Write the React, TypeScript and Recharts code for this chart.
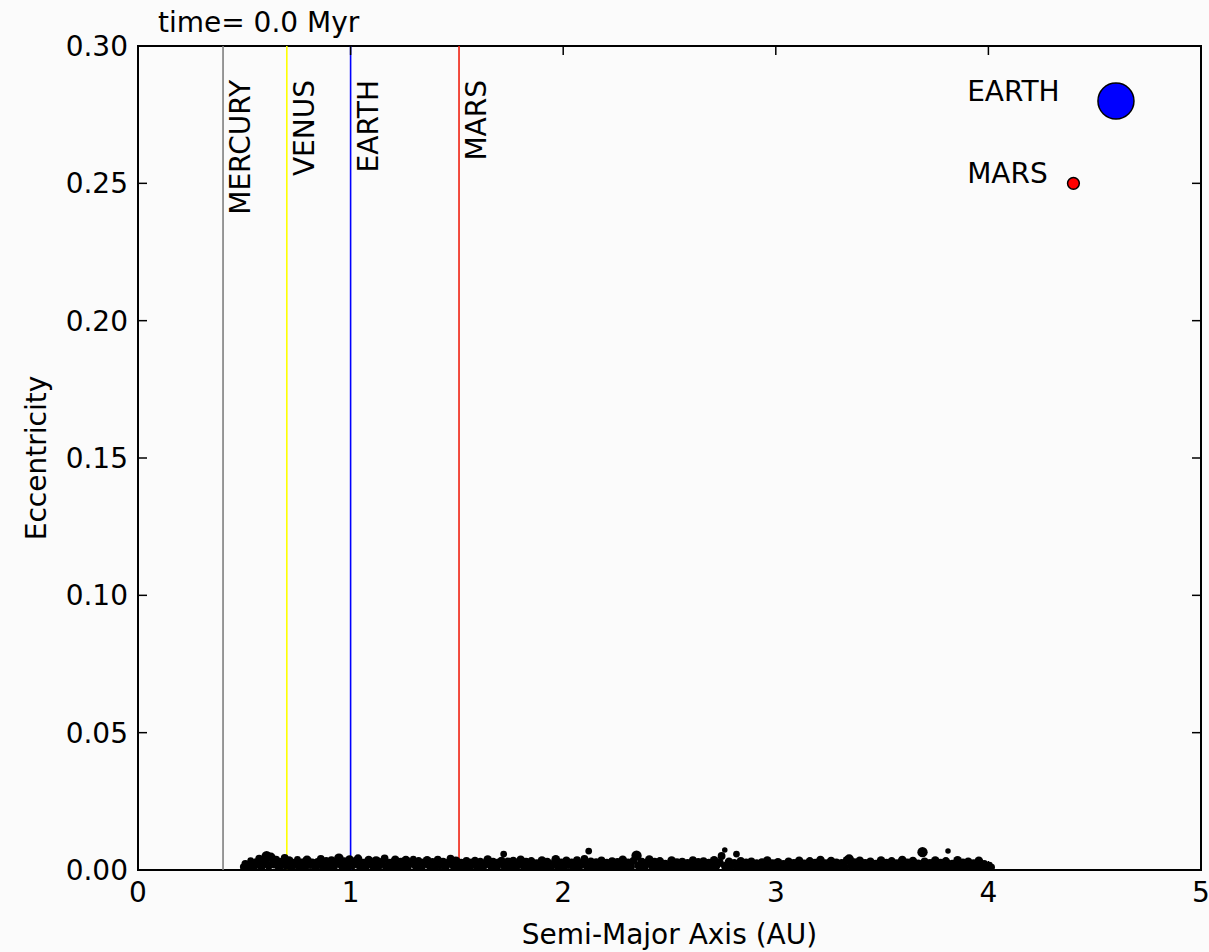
import {
  ScatterChart,
  Scatter,
  XAxis,
  YAxis,
  ZAxis,
  ReferenceLine,
  ReferenceArea,
} from "recharts";

const FONT = "'DejaVu Sans', 'Liberation Sans', sans-serif";
const FONT_SIZE = 28;

// plot frame (pixels) – must agree with the chart margins + axis sizes below
const PLOT_TOP = 46;
const PLOT_BOTTOM = 870;
const PLOT_LEFT = 138;
const PLOT_RIGHT = 1201;
const TICK_LEN = 9;

const xTicks = [0, 1, 2, 3, 4, 5];
const yTicks = [0, 0.05, 0.1, 0.15, 0.2, 0.25, 0.3];

// planet orbits drawn as vertical lines
const planetNames = ["MERCURY", "VENUS", "EARTH", "MARS"];
const planetOrbits = [0.4, 0.7, 1.0, 1.51];

// mass legend in the upper right corner
const legendNames = ["EARTH", "MARS"];
const legendA = [4.6, 4.4];
const legendE = [0.28, 0.25];
const legendMass = [1.0, 0.107];
const legendLabelA = 3.9;

// planetesimals: [semi-major axis (AU), eccentricity, mass (arb.)]
const innerBelt: [number, number, number][] = [
  [0.495, 0.0011, 3], [0.505, 0.0022, 4], [0.52, 0.0013, 5], [0.53, 0.0034, 3], [0.545, 0.0012, 4],
  [0.555, 0.0027, 5], [0.57, 0.0041, 4], [0.58, 0.0015, 6], [0.595, 0.003, 5], [0.605, 0.005, 7],
  [0.615, 0.0017, 5], [0.625, 0.0046, 6], [0.64, 0.0021, 5], [0.65, 0.0038, 4], [0.665, 0.0012, 6],
  [0.675, 0.0029, 5], [0.69, 0.0044, 4], [0.7, 0.0016, 5], [0.71, 0.0033, 6], [0.725, 0.0011, 4],
  [0.735, 0.0025, 5], [0.75, 0.0039, 3], [0.76, 0.0014, 6], [0.77, 0.0028, 4], [0.785, 0.0012, 5],
  [0.795, 0.0035, 6], [0.81, 0.0018, 4], [0.82, 0.003, 3], [0.835, 0.001, 5], [0.845, 0.0026, 6],
  [0.86, 0.004, 4], [0.87, 0.0013, 5], [0.885, 0.0031, 5], [0.895, 0.0016, 6], [0.91, 0.0036, 4],
  [0.92, 0.0012, 5], [0.935, 0.0024, 4], [0.945, 0.0043, 6], [0.96, 0.0015, 5], [0.97, 0.0032, 4],
  [0.985, 0.0011, 6], [0.995, 0.0038, 5], [1.01, 0.0017, 4], [1.02, 0.0029, 6], [1.035, 0.0041, 5],
  [1.045, 0.0013, 5], [1.06, 0.0027, 4], [1.07, 0.0014, 6], [1.085, 0.0036, 5], [1.095, 0.002, 3],
  [1.11, 0.0011, 5], [1.12, 0.0033, 6], [1.135, 0.0016, 4], [1.145, 0.0028, 5], [1.16, 0.0042, 4],
  [1.17, 0.0012, 6], [1.185, 0.0025, 5], [1.195, 0.0015, 4], [1.21, 0.0037, 5], [1.22, 0.001, 6],
  [1.235, 0.003, 4], [1.245, 0.0018, 5], [1.26, 0.0034, 6], [1.27, 0.0013, 4], [1.285, 0.0026, 5],
  [1.295, 0.004, 3], [1.31, 0.0014, 6], [1.32, 0.0031, 5], [1.335, 0.0011, 4], [1.345, 0.0024, 6],
  [1.36, 0.0035, 5], [1.37, 0.0016, 4], [1.385, 0.0028, 5], [1.395, 0.0012, 6], [1.41, 0.0038, 4],
  [1.42, 0.0019, 5], [1.435, 0.003, 4], [1.445, 0.0013, 6], [1.46, 0.0026, 5], [1.47, 0.0041, 4],
  [1.485, 0.0015, 5], [1.495, 0.0032, 6],
];

const midBelt: [number, number, number][] = [
  [1.51, 0.0012, 5], [1.52, 0.0027, 4], [1.535, 0.0015, 6], [1.545, 0.0033, 4], [1.56, 0.0011, 5],
  [1.57, 0.0024, 6], [1.585, 0.0036, 3], [1.595, 0.0014, 5], [1.61, 0.0029, 5], [1.62, 0.0012, 6],
  [1.635, 0.0022, 4], [1.645, 0.0038, 5], [1.66, 0.0016, 5], [1.67, 0.003, 4], [1.685, 0.0011, 6],
  [1.695, 0.0026, 5], [1.71, 0.0034, 4], [1.72, 0.0058, 3], [1.725, 0.0013, 5], [1.74, 0.0028, 6],
  [1.75, 0.0015, 4], [1.765, 0.0032, 5], [1.775, 0.001, 6], [1.79, 0.0023, 4], [1.8, 0.0037, 5],
  [1.815, 0.0014, 5], [1.825, 0.0027, 6], [1.84, 0.0012, 4], [1.85, 0.0031, 5], [1.865, 0.0017, 5],
  [1.875, 0.0025, 4], [1.89, 0.0011, 6], [1.9, 0.0034, 5], [1.915, 0.0016, 4], [1.925, 0.0029, 5],
  [1.94, 0.0013, 6], [1.95, 0.0022, 4], [1.965, 0.0039, 5], [1.975, 0.0015, 5], [1.99, 0.0028, 4],
  [2.0, 0.0011, 6], [2.015, 0.0033, 5], [2.025, 0.0018, 4], [2.04, 0.0026, 5], [2.05, 0.0012, 6],
  [2.065, 0.0036, 4], [2.075, 0.0014, 5], [2.09, 0.0024, 5], [2.1, 0.004, 4], [2.115, 0.0013, 6],
  [2.12, 0.0069, 3], [2.13, 0.003, 5], [2.14, 0.0016, 4], [2.155, 0.0027, 5], [2.165, 0.0011, 6],
  [2.18, 0.0035, 4], [2.19, 0.0015, 5], [2.205, 0.0025, 5], [2.215, 0.0012, 6], [2.23, 0.0032, 4],
  [2.24, 0.0017, 5], [2.255, 0.0028, 5], [2.265, 0.001, 6], [2.28, 0.0037, 5], [2.29, 0.0014, 4],
  [2.305, 0.0026, 5], [2.315, 0.0012, 6], [2.33, 0.0033, 4], [2.345, 0.0052, 7], [2.355, 0.0016, 5],
  [2.37, 0.0029, 5], [2.38, 0.0011, 6], [2.395, 0.0024, 4], [2.405, 0.0038, 5], [2.42, 0.0014, 5],
  [2.43, 0.0027, 6], [2.445, 0.0012, 4], [2.455, 0.0031, 5], [2.47, 0.0017, 5], [2.48, 0.0023, 4],
  [2.495, 0.0011, 6],
];

const outerBelt: [number, number, number][] = [
  [2.51, 0.0034, 5], [2.52, 0.0015, 4], [2.535, 0.0027, 5], [2.545, 0.0012, 6], [2.56, 0.003, 4],
  [2.57, 0.0016, 5], [2.585, 0.0024, 5], [2.595, 0.0011, 6], [2.61, 0.0036, 4], [2.62, 0.0014, 5],
  [2.635, 0.0028, 5], [2.645, 0.0012, 6], [2.66, 0.0032, 4], [2.67, 0.0017, 5], [2.685, 0.0025, 5],
  [2.695, 0.001, 6], [2.71, 0.0035, 5], [2.72, 0.0015, 4], [2.735, 0.0027, 5], [2.745, 0.0051, 4],
  [2.76, 0.0073, 2], [2.765, 0.0013, 6], [2.78, 0.003, 5], [2.79, 0.0016, 4], [2.805, 0.0024, 5],
  [2.815, 0.0058, 3], [2.82, 0.0011, 6], [2.835, 0.0033, 4], [2.845, 0.0014, 5], [2.86, 0.0026, 5],
  [2.87, 0.0012, 6], [2.885, 0.0031, 4], [2.895, 0.0017, 5], [2.91, 0.0023, 5], [2.92, 0.001, 6],
  [2.935, 0.0029, 4], [2.945, 0.0015, 5], [2.96, 0.0034, 5], [2.97, 0.0012, 6], [2.985, 0.0025, 4],
  [2.995, 0.0016, 5], [3.01, 0.0028, 5], [3.02, 0.0011, 6], [3.035, 0.0022, 4], [3.045, 0.0014, 5],
  [3.06, 0.003, 5], [3.07, 0.0012, 6], [3.085, 0.0026, 4], [3.095, 0.0017, 5], [3.11, 0.0033, 5],
  [3.12, 0.001, 6], [3.135, 0.0024, 4], [3.145, 0.0015, 5], [3.16, 0.0031, 5], [3.17, 0.0013, 6],
  [3.185, 0.0027, 4], [3.195, 0.0016, 5], [3.21, 0.0036, 5], [3.22, 0.0011, 6], [3.235, 0.0025, 4],
  [3.245, 0.0014, 5], [3.26, 0.0032, 5], [3.27, 0.0012, 6], [3.285, 0.0028, 4], [3.295, 0.0017, 5],
  [3.31, 0.0024, 5], [3.32, 0.001, 6], [3.335, 0.0035, 5], [3.345, 0.004, 6], [3.355, 0.0015, 5],
  [3.37, 0.0029, 4], [3.38, 0.0012, 6], [3.395, 0.0033, 5], [3.405, 0.0016, 5], [3.42, 0.0026, 4],
  [3.43, 0.0011, 6], [3.445, 0.003, 5], [3.455, 0.0014, 5], [3.47, 0.0023, 4], [3.48, 0.0012, 6],
  [3.495, 0.0034, 5], [3.505, 0.0017, 5], [3.52, 0.0027, 4], [3.53, 0.001, 6], [3.545, 0.0031, 5],
  [3.555, 0.0015, 5], [3.57, 0.0025, 4], [3.58, 0.0013, 6], [3.595, 0.0036, 5], [3.605, 0.0016, 5],
  [3.62, 0.0028, 4], [3.63, 0.0011, 6], [3.645, 0.0032, 5], [3.655, 0.0014, 5], [3.67, 0.0024, 4],
  [3.685, 0.0012, 6], [3.69, 0.0065, 7], [3.7, 0.003, 5], [3.71, 0.0017, 5], [3.725, 0.0026, 4],
  [3.735, 0.001, 6], [3.75, 0.0034, 5], [3.76, 0.0015, 5], [3.775, 0.0027, 4], [3.785, 0.0013, 6],
  [3.8, 0.0031, 5], [3.81, 0.0069, 2], [3.815, 0.0016, 5], [3.83, 0.0023, 4], [3.84, 0.0011, 6],
  [3.855, 0.0035, 5], [3.865, 0.0014, 5], [3.88, 0.0028, 4], [3.89, 0.0012, 6], [3.905, 0.003, 5],
  [3.915, 0.0016, 5], [3.93, 0.0025, 4], [3.94, 0.0011, 6], [3.955, 0.0033, 5], [3.965, 0.0015, 5],
  [3.98, 0.0022, 4], [3.99, 0.0012, 5], [4.005, 0.0018, 3], [4.015, 0.001, 3],
];

const lineColors: Record<string, string> = {
  MERCURY: "#7f7f7f",
  VENUS: "#ffff00",
  EARTH: "#0000ff",
  MARS: "#f02010",
};
const dotColors: Record<string, string> = {
  EARTH: "#0000ff",
  MARS: "#ff0000",
};

const beltData = [...innerBelt, ...midBelt, ...outerBelt].map(([a, e, m]) => ({ a, e, m }));
const legendData = legendNames.map((name, i) => ({
  name,
  a: legendA[i],
  e: legendE[i],
  m: legendMass[i],
}));
const legendLabels = legendNames.map((name, i) => ({ name, a: legendLabelA, e: legendE[i] }));

const textStyle = { fontFamily: FONT, fontSize: FONT_SIZE, fill: "#000" };

function XTick({ x, payload }: any) {
  return (
    <g>
      <line x1={x} x2={x} y1={PLOT_BOTTOM} y2={PLOT_BOTTOM - TICK_LEN} stroke="#000" strokeWidth={1.5} />
      <line x1={x} x2={x} y1={PLOT_TOP} y2={PLOT_TOP + TICK_LEN} stroke="#000" strokeWidth={1.5} />
      <text x={x} y={PLOT_BOTTOM + 32} textAnchor="middle" {...textStyle}>
        {payload.value}
      </text>
    </g>
  );
}

function YTick({ y, payload }: any) {
  return (
    <g>
      <line x1={PLOT_LEFT} x2={PLOT_LEFT + TICK_LEN} y1={y} y2={y} stroke="#000" strokeWidth={1.5} />
      <line x1={PLOT_RIGHT} x2={PLOT_RIGHT - TICK_LEN} y1={y} y2={y} stroke="#000" strokeWidth={1.5} />
      <text x={PLOT_LEFT - 10} y={y + 10} textAnchor="end" {...textStyle}>
        {payload.value.toFixed(2)}
      </text>
    </g>
  );
}

function orbitLabel(name: string) {
  return (props: any) => {
    const vb = props.viewBox || {};
    const x = vb.x + 27;
    const y = vb.y + 34;
    return (
      <text x={x} y={y} transform={`rotate(-90 ${x} ${y})`} textAnchor="end" {...textStyle}>
        {name}
      </text>
    );
  };
}

export default function App() {
  return (
    <div
      style={{
        position: "absolute",
        left: 0,
        top: 0,
        width: 1209,
        height: 952,
        background: "#fbfbfb",
      }}
    >
      <ScatterChart width={1209} height={952} margin={{ top: 46, right: 8, bottom: 22, left: 38 }}>
        <XAxis
          type="number"
          dataKey="a"
          domain={[0, 5]}
          ticks={xTicks}
          height={60}
          axisLine={false}
          tickLine={false}
          tick={<XTick />}
          allowDataOverflow
        />
        <YAxis
          type="number"
          dataKey="e"
          domain={[0, 0.3]}
          ticks={yTicks}
          width={100}
          axisLine={false}
          tickLine={false}
          tick={<YTick />}
          allowDataOverflow
        />
        <ZAxis zAxisId="belt" type="number" dataKey="m" domain={[0, 10]} range={[0, 120]} />
        <ZAxis zAxisId="planet" type="number" dataKey="m" domain={[0, 1]} range={[0, 1018]} />

        {planetNames.map((name, i) => (
          <ReferenceLine
            key={name}
            x={planetOrbits[i]}
            stroke={lineColors[name]}
            strokeWidth={1.6}
            label={orbitLabel(name)}
          />
        ))}

        <Scatter
          data={beltData}
          zAxisId="belt"
          fill="#000"
          stroke="none"
          isAnimationActive={false}
        />
        <Scatter
          data={legendData}
          zAxisId="planet"
          isAnimationActive={false}
          shape={(p: any) => (
            <circle
              cx={p.cx}
              cy={p.cy}
              r={Math.sqrt(p.size / Math.PI)}
              fill={dotColors[p.payload.name]}
              stroke="#000"
              strokeWidth={1.5}
            />
          )}
        />
        <Scatter
          data={legendLabels}
          isAnimationActive={false}
          shape={(p: any) => (
            <text x={p.cx} y={p.cy} textAnchor="start" {...textStyle}>
              {p.payload.name}
            </text>
          )}
        />

        <ReferenceArea x1={0} x2={5} y1={0} y2={0.3} fill="none" stroke="#000" strokeWidth={2} />

        <text x={158} y={32} {...textStyle}>
          time= 0.0 Myr
        </text>
        <text x={(PLOT_LEFT + PLOT_RIGHT) / 2} y={944} textAnchor="middle" {...textStyle}>
          Semi-Major Axis (AU)
        </text>
        <text
          x={46}
          y={(PLOT_TOP + PLOT_BOTTOM) / 2}
          textAnchor="middle"
          transform={`rotate(-90 46 ${(PLOT_TOP + PLOT_BOTTOM) / 2})`}
          {...textStyle}
        >
          Eccentricity
        </text>
      </ScatterChart>
    </div>
  );
}
